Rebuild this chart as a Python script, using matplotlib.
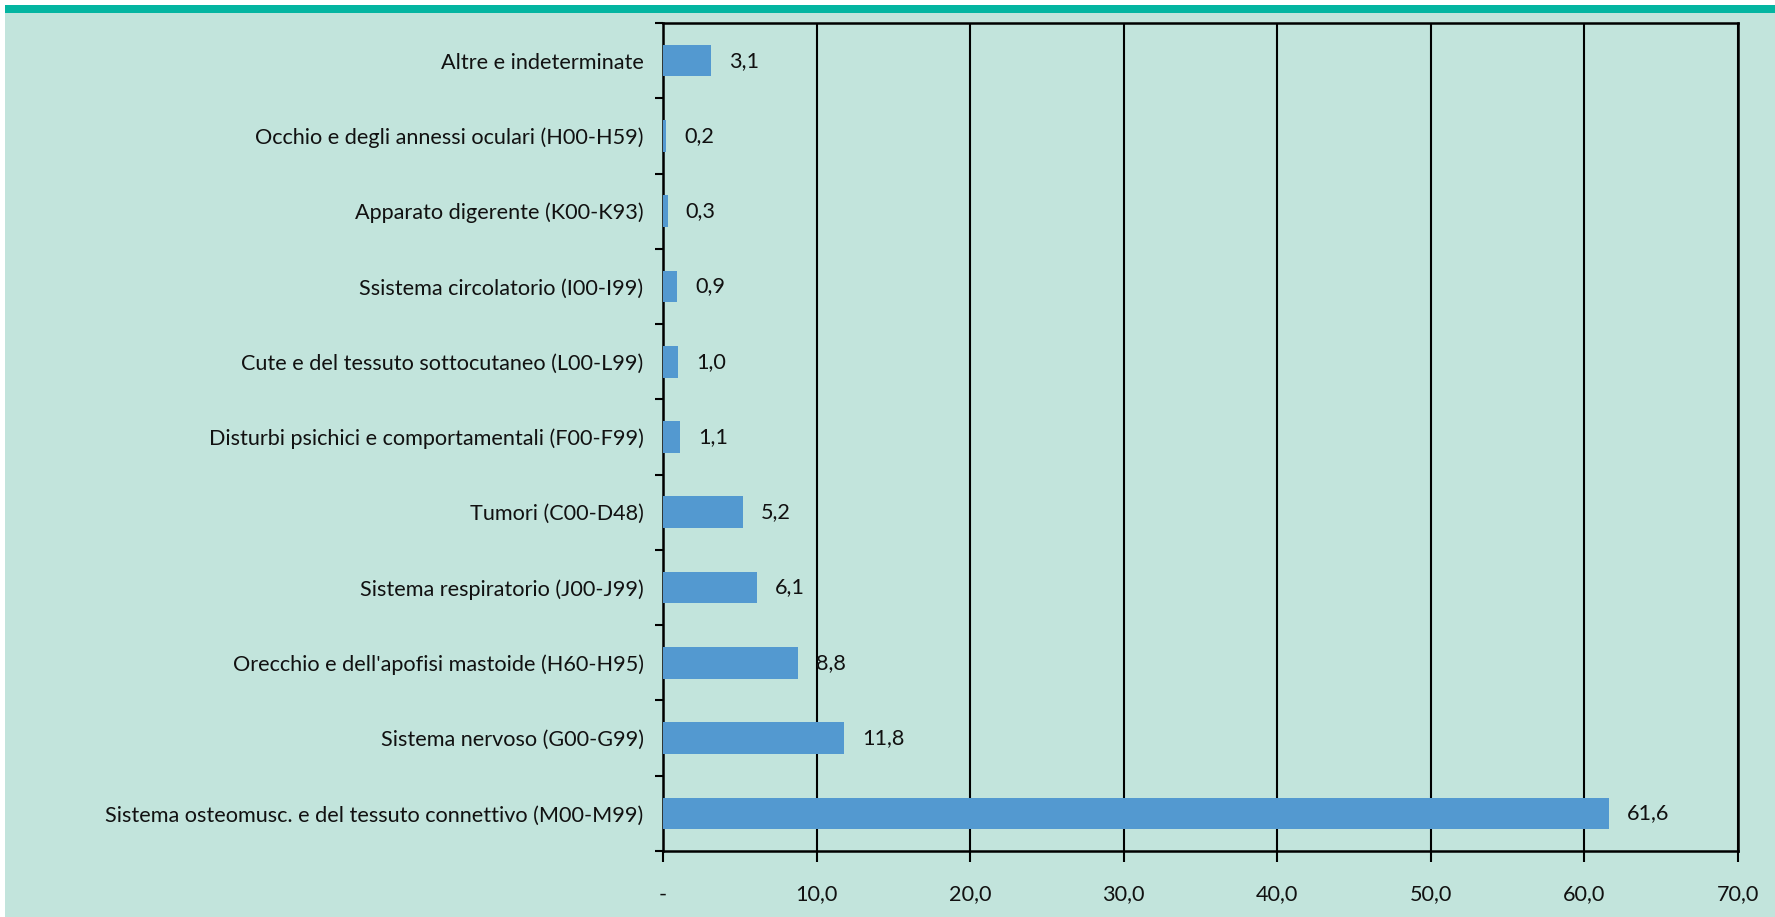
import matplotlib
matplotlib.use("Agg")
import matplotlib.pyplot as plt
from matplotlib.patches import Rectangle

categories = [
    "Sistema osteomusc. e del tessuto connettivo (M00-M99)",
    "Sistema nervoso (G00-G99)",
    "Orecchio e dell'apofisi mastoide (H60-H95)",
    "Sistema respiratorio (J00-J99)",
    "Tumori (C00-D48)",
    "Disturbi psichici e comportamentali (F00-F99)",
    "Cute e del tessuto sottocutaneo (L00-L99)",
    "Ssistema circolatorio (I00-I99)",
    "Apparato digerente (K00-K93)",
    "Occhio e degli annessi oculari (H00-H59)",
    "Altre e indeterminate",
]
values = [61.6, 11.8, 8.8, 6.1, 5.2, 1.1, 1.0, 0.9, 0.3, 0.2, 3.1]
value_labels = ["61,6", "11,8", "8,8", "6,1", "5,2", "1,1", "1,0", "0,9", "0,3", "0,2", "3,1"]
xticks = [0, 10, 20, 30, 40, 50, 60, 70]
xtick_labels = ["-", "10,0", "20,0", "30,0", "40,0", "50,0", "60,0", "70,0"]

plt.rcParams['font.family'] = ['Lato', 'DejaVu Sans']

W, H = 1775, 917
fig = plt.figure(figsize=(W / 100, H / 100), dpi=100, facecolor="white")

bg = "#C2E4DC"
fig.patches.append(Rectangle((5 / W, 0), 1 - 5 / W, 1 - 13 / H, transform=fig.transFigure,
                             facecolor=bg, edgecolor="none", zorder=-10))
fig.patches.append(Rectangle((5 / W, 1 - 13 / H), 1 - 5 / W, 8 / H, transform=fig.transFigure,
                             facecolor="#04B5A1", edgecolor="none", zorder=-10))

ax = fig.add_axes([663 / W, 1 - 851 / H, (1738 - 663) / W, (851 - 23) / H])
ax.set_facecolor("none")

y = list(range(len(categories)))
ax.barh(y, values, height=0.42, color="#5399D0", zorder=3)
ax.set_xlim(0, 70)
ax.set_ylim(-0.5, len(categories) - 0.5)

fs = 15.6
tc = "#111111"
for yi, v, lab in zip(y, values, value_labels):
    ax.annotate(lab, (v, yi), xytext=(13, 0), textcoords="offset points",
                va="center", ha="left", fontsize=fs, color=tc)

ax.set_yticks(y)
ax.set_yticklabels(categories, fontsize=fs, color=tc)
ax.tick_params(axis="y", which="major", length=0, pad=14)
ax.set_yticks([i - 0.5 for i in range(len(categories) + 1)], minor=True)
ax.tick_params(axis="y", which="minor", length=6, width=1.5, color="black", direction="out")

ax.set_xticks(xticks)
ax.set_xticklabels(xtick_labels, fontsize=fs, color=tc)
ax.tick_params(axis="x", which="major", length=8, width=1.5, color="black", pad=16)

ax.grid(axis="x", color="black", linewidth=1.5, zorder=1)
ax.set_axisbelow(True)
for s in ax.spines.values():
    s.set_color("black")
    s.set_linewidth(1.8)

fig.savefig("out.png", dpi=100, facecolor="white")
